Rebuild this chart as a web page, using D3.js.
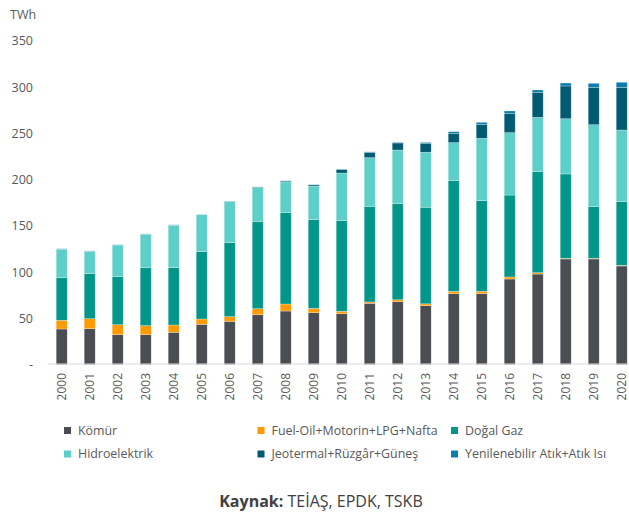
<!DOCTYPE html>
<html>
<head>
<meta charset="utf-8">
<script src="https://cdn.jsdelivr.net/npm/d3@7"></script>
<style>
  html, body { margin: 0; padding: 0; background: #fff; }
  svg { display: block; font-family: "Open Sans", "Noto Sans", sans-serif; }
</style>
</head>
<body>
<svg id="chart" width="629" height="512"></svg>
<script>
const years = ["2000","2001","2002","2003","2004","2005","2006","2007","2008","2009","2010",
               "2011","2012","2013","2014","2015","2016","2017","2018","2019","2020"];
const komur  = [38.4, 38.7, 32.2, 32.2, 34.8, 43.4, 46.7, 53.8, 57.8, 56.0, 54.9, 66.2, 67.9, 63.6, 76.5, 76.5, 92.4, 97.8, 114.1, 114.1, 106.5];
const fuelOil = [9.4, 10.8, 10.8, 9.8, 7.9, 5.8, 5.0, 6.5, 7.6, 4.7, 2.6, 1.4, 2.1, 2.0, 2.6, 2.6, 2.2, 1.4, 0.7, 0.7, 0.7];
const dogalGaz = [46.0, 48.7, 51.9, 62.6, 62.0, 72.8, 80.0, 94.5, 98.7, 95.8, 98.0, 103.4, 103.8, 104.4, 119.6, 98.0, 88.6, 109.2, 91.2, 55.8, 68.8];
const hidro = [31.0, 24.3, 34.4, 36.3, 46.0, 40.0, 44.6, 36.5, 33.3, 36.3, 51.5, 52.6, 58.1, 59.5, 41.1, 67.4, 67.4, 58.8, 59.7, 88.6, 77.5];
const jeotermal = [0.1, 0.1, 0.1, 0.1, 0.1, 0.1, 0.2, 0.5, 1.0, 1.4, 3.6, 5.8, 7.6, 9.7, 10.2, 15.2, 21.0, 27.1, 35.4, 40.5, 46.2];
const atik = [0.2, 0.2, 0.2, 0.2, 0.2, 0.1, 0.2, 0.2, 0.2, 0.3, 0.5, 0.5, 0.7, 0.9, 1.7, 2.1, 2.5, 2.5, 3.2, 4.3, 5.4];

const seriesNames = ["Kömür", "Fuel-Oil+Motorin+LPG+Nafta", "Doğal Gaz", "Hidroelektrik", "Jeotermal+Rüzgâr+Güneş", "Yenilenebilir Atık+Atık Isı"];
const seriesValues = [komur, fuelOil, dogalGaz, hidro, jeotermal, atik];
const colors = ["#4a4d52", "#ff9a00", "#00968a", "#5dcfc8", "#005b70", "#0a7cae"];
const yTicks = [0, 50, 100, 150, 200, 250, 300, 350];

const table = years.map((yr, i) => {
  const row = { year: yr };
  seriesNames.forEach((n, k) => row[n] = seriesValues[k][i]);
  return row;
});

const svg = d3.select("#chart");
const x = d3.scaleBand().domain(years).range([42.2, 641.2]).paddingInner(17/28).paddingOuter(0.5);
const y = d3.scaleLinear().domain([0, 350]).range([364.5, 40.75]);
const color = d3.scaleOrdinal().domain(seriesNames).range(colors);

const stacked = d3.stack().keys(seriesNames)(table);

// Y axis
const yAxis = svg.append("g").attr("transform", "translate(33,0)")
  .call(d3.axisLeft(y).tickValues(yTicks).tickSize(0).tickPadding(0)
        .tickFormat(d => d === 0 ? "-" : d3.format("d")(d)));
yAxis.select(".domain").remove();
yAxis.selectAll("text").attr("fill", "#595959").style("font-size", "12.5px")
  .style("font-family", '"Open Sans", sans-serif');

svg.append("text").attr("x", 10).attr("y", 18.5).text("TWh")
  .attr("fill", "#595959").style("font-size", "12.5px");

// Bars
svg.append("g").selectAll("g").data(stacked).join("g")
  .attr("fill", d => color(d.key))
  .selectAll("rect").data(d => d).join("rect")
  .attr("x", d => x(d.data.year))
  .attr("width", x.bandwidth())
  .attr("y", d => y(d[1]))
  .attr("height", d => Math.max(0, y(d[0]) - y(d[1])))
  .attr("stroke", "#ffffff").attr("stroke-opacity", 0.45).attr("stroke-width", 0.6);

// X axis
const xAxis = svg.append("g").attr("transform", "translate(0,364)")
  .call(d3.axisBottom(x).tickSize(0).tickPadding(0));
xAxis.select(".domain").remove();
xAxis.selectAll("text")
  .attr("transform", "rotate(-90)")
  .attr("x", -9).attr("y", 0).attr("dy", "0.35em")
  .style("text-anchor", "end")
  .attr("fill", "#595959").style("font-size", "12px")
  .style("font-family", '"Open Sans", sans-serif');

svg.append("line").attr("x1", 48).attr("x2", 629).attr("y1", 364).attr("y2", 364)
  .attr("stroke", "#d9d9d9").attr("stroke-width", 1.2);

// Legend
const legendCols = [64, 257.5, 451];
const legendRows = [430.5, 454];
const legend = svg.append("g").selectAll("g").data(seriesNames).join("g")
  .attr("transform", (d, i) => `translate(${legendCols[i % 3]},${legendRows[Math.floor(i / 3)]})`);
legend.append("rect").attr("x", 0).attr("y", -3.5).attr("width", 7).attr("height", 7)
  .attr("fill", d => color(d));
legend.append("text").attr("x", 14).attr("y", 0).attr("dy", "0.35em").text(d => d)
  .attr("fill", "#595959").style("font-size", "12.4px");

// Caption
const cap = svg.append("text").attr("x", 321).attr("y", 507).attr("text-anchor", "middle")
  .attr("fill", "#404040").style("font-size", "16px");
cap.append("tspan").attr("font-weight", "bold").text("Kaynak:");
cap.append("tspan").text(" TEİAŞ, EPDK, TSKB");
</script>
</body>
</html>
